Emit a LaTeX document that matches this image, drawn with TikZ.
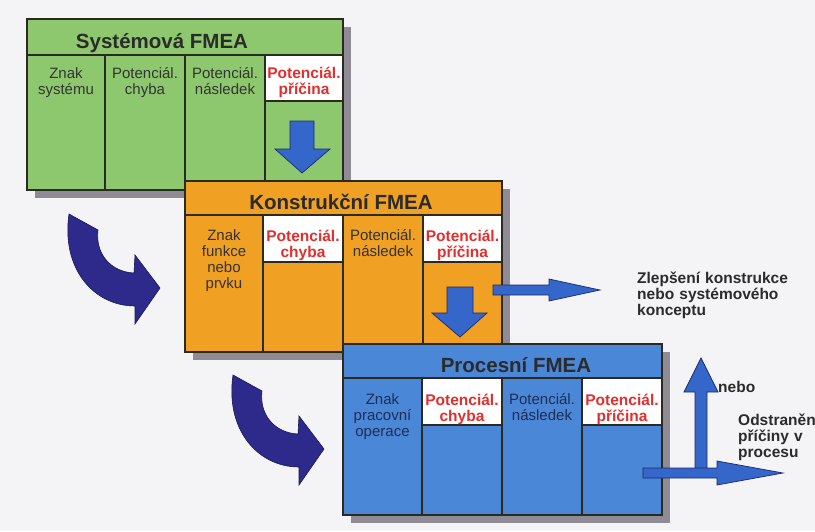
\documentclass[tikz,border=0pt]{standalone}
\usepackage{fontspec}
\setmainfont{Liberation Sans}
\definecolor{bgcol}{HTML}{F4F4F6}
\definecolor{greenfill}{HTML}{8EC86E}
\definecolor{orangefill}{HTML}{F0A023}
\definecolor{bluefill}{HTML}{4B87D7}
\definecolor{edgecol}{HTML}{2A2A22}
\definecolor{shadowcol}{HTML}{8E8B95}
\definecolor{titlecol}{HTML}{2B2B2B}
\definecolor{cellcol}{HTML}{333333}
\definecolor{bluetext}{HTML}{1F2D55}
\definecolor{redcol}{HTML}{E0302E}
\definecolor{arrowblue}{HTML}{3566C9}
\definecolor{arrowedge}{HTML}{1B2A6B}
\definecolor{navy}{HTML}{2D2A8C}
\definecolor{navyedge}{HTML}{1A1850}
\begin{document}
\begin{tikzpicture}[x=1pt,y=-1pt,
  frame/.style={draw=edgecol,line width=2pt},
  divider/.style={draw=edgecol,line width=1.4pt},
  whitecell/.style={fill=white,draw=edgecol,line width=1.4pt},
  shade/.style={fill=shadowcol},
  titletext/.style={font=\fontsize{20.5}{24}\selectfont\bfseries,text=titlecol,anchor=base,inner sep=0pt},
  celltext/.style={font=\fontsize{15}{16.2}\selectfont,text=cellcol,align=center,anchor=base,inner sep=0pt,text width=77pt},
  redtext/.style={celltext,font=\fontsize{15.5}{16}\selectfont\bfseries,text=redcol},
  notetext/.style={font=\fontsize{15.5}{16}\selectfont\bfseries,text=titlecol,align=left,anchor=base west,inner sep=0pt},
  blockarrow/.style={fill=arrowblue,draw=arrowedge,line width=0.7pt,line join=miter},
  curvedarrow/.style={fill=navy,draw=navyedge,line width=0.6pt},
  curved/.pic={\path[curvedarrow] (0,0) -- (29,16) .. controls (26,40) and (42,58) .. (65,59) -- (66,41) -- (91,74) -- (66,110) -- (66,92) .. controls (25,92) and (-8,55) .. (0,0) -- cycle;}
]
\useasboundingbox (0,0) rectangle (815,531);
\fill[bgcol] (0,0) rectangle (815,531);

% ---------- Box 1: Systemova FMEA ----------
\fill[shade] (35,27) rectangle (351,198);
\fill[greenfill] (27,19) rectangle (343,190);
\draw[divider] (105,55) -- (105,190) (185,55) -- (185,190) (265,55) -- (265,190);
\filldraw[whitecell] (265,55) rectangle (343,101);
\draw[frame] (27,55) -- (343,55);
\draw[frame] (27,19) rectangle (343,190);
\node[titletext] (t1) at (162,48) {Systémová FMEA};
\node[celltext] (s1) at (66,78) {Znak\\systému};
\node[celltext] (s2) at (145,78) {Potenciál.\\chyba};
\node[celltext] (s3) at (225,78) {Potenciál.\\následek};
\node[redtext] (s4) at (304,78) {Potenciál.\\příčina};
\path[blockarrow] (290,121) -- (314,121) -- (314,149) -- (330,149) -- (302,173) -- (275,149) -- (290,149) -- cycle;

% ---------- curved arrows ----------
\pic (carrow1) at (69,214) {curved};
\pic (carrow2) at (233,375) {curved};

% ---------- Box 2: Konstrukcni FMEA ----------
\fill[shade] (193,189) rectangle (510,360);
\fill[orangefill] (185,181) rectangle (502,352);
\draw[divider] (263,215) -- (263,352) (343,215) -- (343,352) (423,215) -- (423,352);
\filldraw[whitecell] (263,215) rectangle (343,262);
\filldraw[whitecell] (423,215) rectangle (502,262);
\draw[frame] (185,215) -- (502,215);
\draw[frame] (185,181) rectangle (502,352);
\node[titletext] (t2) at (341,209) {Konstrukční FMEA};
\node[celltext] (k1) at (224,240) {Znak\\funkce\\nebo\\prvku};
\node[redtext] (k2) at (303,241) {Potenciál.\\chyba};
\node[celltext] (k3) at (383,240) {Potenciál.\\následek};
\node[redtext] (k4) at (462.5,241) {Potenciál.\\příčina};
\path[blockarrow] (447,287) -- (473,287) -- (473,313) -- (487,313) -- (460,337) -- (432,313) -- (447,313) -- cycle;
\path[blockarrow] (493,285) -- (549,285) -- (549,279) -- (600,290) -- (549,301) -- (549,295) -- (493,295) -- cycle;
\node[notetext,text width=175pt] (n1) at (637,283) {Zlepšení konstrukce\\nebo systémového\\konceptu};

% ---------- Box 3: Procesni FMEA ----------
\fill[shade] (351,352) rectangle (670,523);
\fill[bluefill] (343,344) rectangle (662,515);
\draw[divider] (422,378) -- (422,515) (502,378) -- (502,515) (582,378) -- (582,515);
\filldraw[whitecell] (422,378) rectangle (502,425);
\filldraw[whitecell] (582,378) rectangle (662,425);
\draw[frame] (343,378) -- (662,378);
\draw[frame] (343,344) rectangle (662,515);
\node[titletext] (t3) at (516,372) {Procesní FMEA};
\node[celltext,text=bluetext] (p1) at (382.5,404) {Znak\\pracovní\\operace};
\node[redtext] (p2) at (462,405) {Potenciál.\\chyba};
\node[celltext,text=bluetext] (p3) at (542,404) {Potenciál.\\následek};
\node[redtext] (p4) at (622,405) {Potenciál.\\příčina};

\path[blockarrow] (695,477) -- (695,392) -- (684,392) -- (701,358) -- (718,392) -- (707,392) -- (707,477) -- cycle;
\path[blockarrow] (643,468) -- (717,468) -- (717,461) -- (783,473) -- (717,485) -- (717,478) -- (643,478) -- cycle;
\node[notetext] (n2) at (718,392) {nebo};
\node[notetext,text width=77pt] (n3) at (738,425) {Odstraněn\\příčiny v\\procesu};
\end{tikzpicture}
\end{document}
